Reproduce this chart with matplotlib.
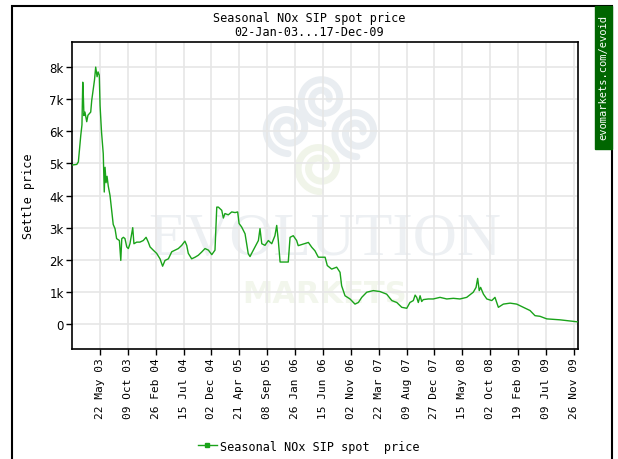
import numpy as np
import pandas as pd
import matplotlib
matplotlib.use('Agg')
import matplotlib.pyplot as plt
from matplotlib.patches import Rectangle
from matplotlib.lines import Line2D

# Settle price series (days since 02-Jan-03, price in $)
start = pd.Timestamp('2003-01-02')
end = pd.Timestamp('2009-12-17')
days = [0, 24, 32, 44, 50, 54, 57, 60, 65, 74, 80, 94, 99, 107, 113, 119, 126, 131,
        137, 141, 148, 157, 162, 166, 171, 176, 182, 191, 199, 207, 216, 224, 238,
        245, 250, 258, 266, 275, 283, 291, 305, 311, 325, 341, 358, 372, 383, 392,
        408, 425, 442, 455, 467, 484, 501, 517, 534, 551, 567, 576, 584, 601, 618,
        634, 651, 668, 685, 702, 718, 727, 735, 752, 760, 768, 785, 802, 819, 832,
        839, 852, 869, 885, 894, 902, 919, 936, 944, 953, 969, 986, 1003, 1019,
        1028, 1036, 1045, 1070, 1086, 1095, 1111, 1128, 1136, 1162, 1187, 1204,
        1220, 1237, 1271, 1282, 1304, 1329, 1346, 1354, 1371, 1396, 1421, 1438,
        1455, 1480, 1513, 1547, 1580, 1606, 1631, 1656, 1681, 1697, 1714, 1723,
        1731, 1739, 1748, 1756, 1764, 1789, 1814, 1848, 1882, 1915, 1948, 1982,
        2015, 2029, 2037, 2045, 2052, 2066, 2083, 2108, 2124, 2141, 2166, 2200,
        2233, 2266, 2300, 2325, 2350, 2384, 2451, 2535, 2541]
price = [4950, 4970, 5050, 5870, 6200, 7530, 7100, 6490, 6600, 6300, 6500, 6600,
         6960, 7320, 7600, 8000, 7700, 7850, 7750, 6800, 6000, 5300, 4110, 4880,
         4400, 4600, 4300, 4000, 3550, 3100, 2970, 2660, 2600, 1980, 2660, 2700,
         2660, 2400, 2350, 2500, 3000, 2500, 2550, 2550, 2600, 2700, 2550, 2400,
         2300, 2200, 2030, 1800, 1980, 2030, 2250, 2300, 2350, 2450, 2580, 2450,
         2200, 2030, 2080, 2140, 2240, 2350, 2300, 2160, 2300, 3640, 3640, 3540,
         3300, 3440, 3400, 3490, 3470, 3490, 3130, 3020, 2810, 2190, 2100, 2200,
         2400, 2600, 2970, 2500, 2450, 2600, 2500, 2750, 3070, 2600, 1930, 1930,
         1930, 2700, 2750, 2600, 2440, 2490, 2540, 2390, 2280, 2080, 2080, 1820,
         1710, 1770, 1610, 1190, 880, 780, 620, 670, 830, 990, 1040, 1010, 930,
         730, 670, 520, 490, 670, 730, 900, 830, 670, 880, 700, 760, 780, 780, 830,
         780, 800, 780, 830, 990, 1140, 1420, 1040, 1140, 930, 780, 730, 830, 520,
         620, 650, 620, 520, 420, 260, 240, 160, 130, 70, 70]

dates = start + pd.to_timedelta(days, unit='D')
tick_dates = pd.date_range('2003-05-22', periods=18, freq='140D')
yticks = [0, 1000, 2000, 3000, 4000, 5000, 6000, 7000, 8000]
ytick_labels = ['0', '1k', '2k', '3k', '4k', '5k', '6k', '7k', '8k']

title = 'Seasonal NOx SIP spot price\n02-Jan-03...17-Dec-09'
series_label = 'Seasonal NOx SIP spot  price'
line_color = '#1aa31a'
mono = 'DejaVu Sans Mono'

fig = plt.figure(figsize=(6.18, 4.6), dpi=100)
ax = fig.add_axes([0.1165, 0.239, 0.8188, 0.6674])

# watermark
ax.text(0.5, 0.358, 'EVOLUTION', transform=ax.transAxes, ha='center', va='center',
        fontsize=44, family='Liberation Serif', color='#edf0f3', zorder=0)
ax.text(0.5, 0.18, 'MARKETS', transform=ax.transAxes, ha='center', va='center',
        fontsize=22, family='DejaVu Sans', weight='bold', color='#f2f6ec', zorder=0)
for cx, cy, col in [(0.496, 0.814, '#e9edf1'), (0.427, 0.717, '#e9edf1'),
                    (0.563, 0.707, '#e9edf1'), (0.49, 0.593, '#f0f4e9')]:
    t = np.linspace(0, 3.5 * np.pi, 200)
    r = 0.02 + 0.0055 * t
    ax.plot(cx + r * np.cos(t) * 0.6, cy + r * np.sin(t), transform=ax.transAxes,
            color=col, lw=5, zorder=0, solid_capstyle='round')

ax.plot(dates, price, color=line_color, lw=1.0, zorder=3)

ax.set_xlim(start, end)
ax.set_ylim(-780, 8780)
ax.set_yticks(yticks)
ax.set_yticklabels(ytick_labels, fontsize=8.5, family='DejaVu Sans')
ax.set_xticks(tick_dates)
ax.set_xticklabels([d.strftime('%d %b %y') for d in tick_dates], rotation=90,
                   fontsize=8, family=mono)
ax.tick_params(axis='both', length=4, width=1, color='black')
ax.tick_params(axis='x', pad=2)
ax.tick_params(axis='y', pad=2)
ax.grid(color='#e6e6e6', lw=1.2, zorder=1)
ax.set_axisbelow(True)
for s in ax.spines.values():
    s.set_linewidth(1.2)

ax.set_ylabel('Settle price', fontsize=8.5, family=mono, labelpad=10)

fig.text(0.5, 0.945, title, ha='center', va='center', fontsize=8.5,
         family=mono, linespacing=1.1)

handle = Line2D([], [], color=line_color, lw=1.0, marker='s', markersize=2.5)
fig.legend([handle], [series_label], loc='center', bbox_to_anchor=(0.5, 0.028),
           frameon=False, prop={'family': mono, 'size': 8.5}, handlelength=1.6,
           handletextpad=0.3)

# outer frame and side banner
fig.patches.append(Rectangle((12 / 618, -0.02), 600 / 618, 1.02 - 7 / 460,
                             transform=fig.transFigure, fill=False, lw=1.5,
                             edgecolor='black'))
fig.patches.append(Rectangle((595 / 618, 1 - 150 / 460), 17 / 618, 143 / 460,
                             transform=fig.transFigure, color='#006600'))
fig.text(603.5 / 618, 1 - 78 / 460, 'evomarkets.com/evoid', rotation=90,
         ha='center', va='center', fontsize=7.5, family=mono, color='white')

fig.savefig('out.png', dpi=100)
